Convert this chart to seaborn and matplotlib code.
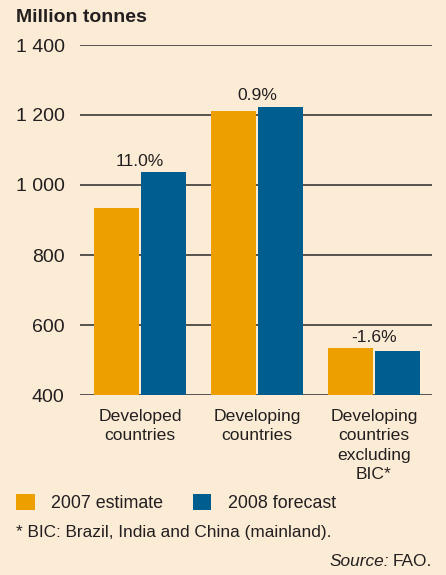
import matplotlib
matplotlib.use("Agg")
import matplotlib.pyplot as plt
import pandas as pd
import seaborn as sns

# --- data ---
categories = ["Developed\ncountries", "Developing\ncountries",
              "Developing\ncountries\nexcluding\nBIC*"]
estimate_2007 = [934, 1211, 534]
forecast_2008 = [1037, 1223, 526]
change_labels = ["11.0%", "0.9%", "-1.6%"]
series_names = ["2007 estimate", "2008 forecast"]
y_ticks = [400, 600, 800, 1000, 1200, 1400]
y_tick_labels = ["400", "600", "800", "1 000", "1 200", "1 400"]

# colours
BG = "#FCECD5"
ORANGE = "#EE9F00"
BLUE = "#005E8E"
LINE = "#3a3a3a"
TEXT = "#231f20"

df = pd.DataFrame({
    "category": categories * 2,
    "series": [series_names[0]] * 3 + [series_names[1]] * 3,
    "value": estimate_2007 + forecast_2008,
})

sns.set_theme(style="white")
plt.rcParams["font.family"] = ["Liberation Sans", "DejaVu Sans"]
plt.rcParams["text.color"] = TEXT

W, H = 446, 575
fig = plt.figure(figsize=(W / 100, H / 100), dpi=100, facecolor=BG)
ax = fig.add_axes([80 / W, 180 / H, 352 / W, 350 / H], facecolor=BG)

sns.barplot(data=df, x="category", y="value", hue="series",
            palette=[ORANGE, BLUE], order=categories, hue_order=series_names,
            width=0.8, gap=0.04, saturation=1, linewidth=0, ax=ax, zorder=3)

ax.set_ylim(400, 1400)
ax.set_xlim(-0.513, 2.496)
ax.set_yticks(y_ticks)
ax.set_yticklabels(y_tick_labels, fontsize=14, color=TEXT)
ax.tick_params(axis="y", length=0, pad=11)
ax.tick_params(axis="x", length=0, pad=10, labelsize=12.6, labelcolor=TEXT)
for lab in ax.get_xticklabels():
    lab.set_linespacing(1.36)
ax.set_xlabel("")
ax.set_ylabel("")
for s in ax.spines.values():
    s.set_visible(False)
ax.set_axisbelow(True)
ax.yaxis.grid(True, color=LINE, linewidth=1.2)
ax.xaxis.grid(False)

# percentage change above each group
for i, lbl in enumerate(change_labels):
    top = max(estimate_2007[i], forecast_2008[i])
    ax.text(i, top + 10, lbl, ha="center", va="bottom", fontsize=12.6, color=TEXT)

# legend
handles, labels = ax.get_legend_handles_labels()
ax.legend_.remove()
fig.legend(handles, labels, loc="center left", bbox_to_anchor=(9 / W, 1 - 503 / H),
           ncol=2, frameon=False, fontsize=12.9, handlelength=1.05, handleheight=1.05,
           handletextpad=0.9, columnspacing=1.65, borderaxespad=0)

fig.text(16 / W, 1 - 18 / H, "Million tonnes", fontsize=14, fontweight="bold",
         ha="left", va="center", color=TEXT)
fig.text(16 / W, 1 - 533 / H, "* BIC: Brazil, India and China (mainland).",
         fontsize=12.4, ha="left", va="center", color=TEXT)
src = fig.text(432 / W, 1 - 562 / H, "FAO.", fontsize=12.4, ha="right", va="center",
               color=TEXT)
fig.canvas.draw()
bb = src.get_window_extent()
fig.text(bb.x0 / W - 4 / W, 1 - 562 / H, "Source:", fontsize=12.4, style="italic",
         ha="right", va="center", color=TEXT)

fig.savefig("out.png", dpi=100, facecolor=BG)
